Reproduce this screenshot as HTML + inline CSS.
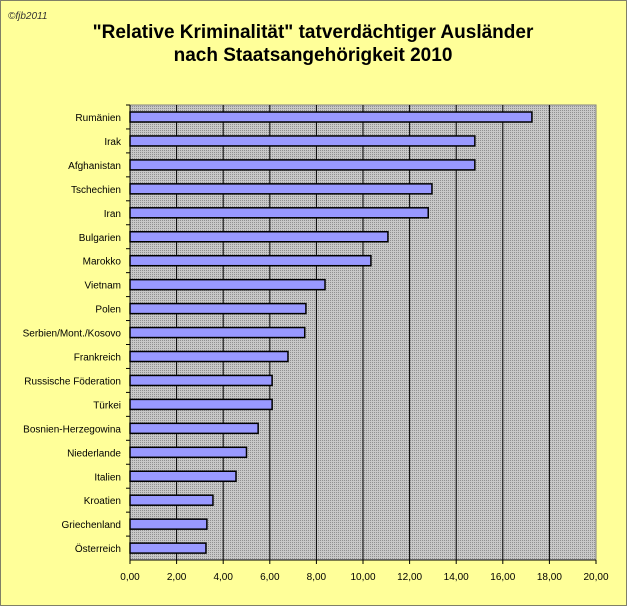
<!DOCTYPE html>
<html><head><meta charset="utf-8"><style>
body{margin:0;width:627px;height:606px;overflow:hidden;background:#fff}
</style></head><body>
<svg width="627" height="606" xmlns="http://www.w3.org/2000/svg" font-family="Liberation Sans, sans-serif">
<defs>
<pattern id="dots" width="2" height="2" patternUnits="userSpaceOnUse"><rect width="2" height="2" fill="#c8c8c8"/><rect width="1" height="1" fill="#909090"/></pattern>
</defs>
<rect x="0.5" y="0.5" width="626" height="605" fill="#ffff99" stroke="#000" stroke-dasharray="1,1"/>
<text x="8" y="19" font-size="10" font-style="italic" fill="#333">©fjb2011</text>
<text x="313" y="38" font-size="19" font-weight="bold" text-anchor="middle">"Relative Kriminalität"  tatverdächtiger Ausländer</text>
<text x="313" y="61" font-size="19" font-weight="bold" text-anchor="middle">nach Staatsangehörigkeit 2010</text>
<rect x="130" y="105" width="466" height="455" fill="url(#dots)" stroke="#808080"/>
<g stroke="#000" stroke-width="1">
<line x1="176.6" y1="105" x2="176.6" y2="560"/><line x1="223.2" y1="105" x2="223.2" y2="560"/><line x1="269.8" y1="105" x2="269.8" y2="560"/><line x1="316.4" y1="105" x2="316.4" y2="560"/><line x1="363" y1="105" x2="363" y2="560"/><line x1="409.6" y1="105" x2="409.6" y2="560"/><line x1="456.2" y1="105" x2="456.2" y2="560"/><line x1="502.8" y1="105" x2="502.8" y2="560"/><line x1="549.4" y1="105" x2="549.4" y2="560"/>
<line x1="130" y1="105" x2="130" y2="560"/><line x1="130" y1="560" x2="596" y2="560"/>
</g>
<g id="bars" fill="#9999ff" stroke="#000" stroke-width="1.5"></g>
<g id="labels" font-size="10" text-anchor="end" fill="#000"></g>
<g id="xt" font-size="10" text-anchor="middle"></g>
<script>
var d=[["Rumänien",17.25],["Irak",14.8],["Afghanistan",14.8],["Tschechien",12.96],["Iran",12.8],["Bulgarien",11.07],["Marokko",10.34],["Vietnam",8.37],["Polen",7.55],["Serbien/Mont./Kosovo",7.5],["Frankreich",6.78],["Russische Föderation",6.1],["Türkei",6.1],["Bosnien-Herzegowina",5.5],["Niederlande",5.0],["Italien",4.55],["Kroatien",3.56],["Griechenland",3.3],["Österreich",3.26]];
var ns="http://www.w3.org/2000/svg",b=document.getElementById("bars"),l=document.getElementById("labels"),x=document.getElementById("xt");
d.forEach(function(r,i){var c=105+12+i*23.95;
var e=document.createElementNS(ns,"rect");e.setAttribute("x",130);e.setAttribute("y",c-5);e.setAttribute("width",r[1]*23.3);e.setAttribute("height",10);b.appendChild(e);
var t=document.createElementNS(ns,"text");t.setAttribute("x",121);t.setAttribute("y",c+4);t.textContent=r[0];l.appendChild(t);
var k=document.createElementNS(ns,"line");k.setAttribute("x1",126);k.setAttribute("x2",130);k.setAttribute("y1",105+i*23.95);k.setAttribute("y2",105+i*23.95);k.setAttribute("stroke","#000");l.appendChild(k);});
for(var i=0;i<=10;i++){var t=document.createElementNS(ns,"text");t.setAttribute("x",130+i*46.6);t.setAttribute("y",580);t.textContent=(i*2)+",00";x.appendChild(t);
var k=document.createElementNS(ns,"line");k.setAttribute("x1",130+i*46.6);k.setAttribute("x2",130+i*46.6);k.setAttribute("y1",560);k.setAttribute("y2",564);k.setAttribute("stroke","#000");x.appendChild(k);}
</script>
</svg>
</body></html>
